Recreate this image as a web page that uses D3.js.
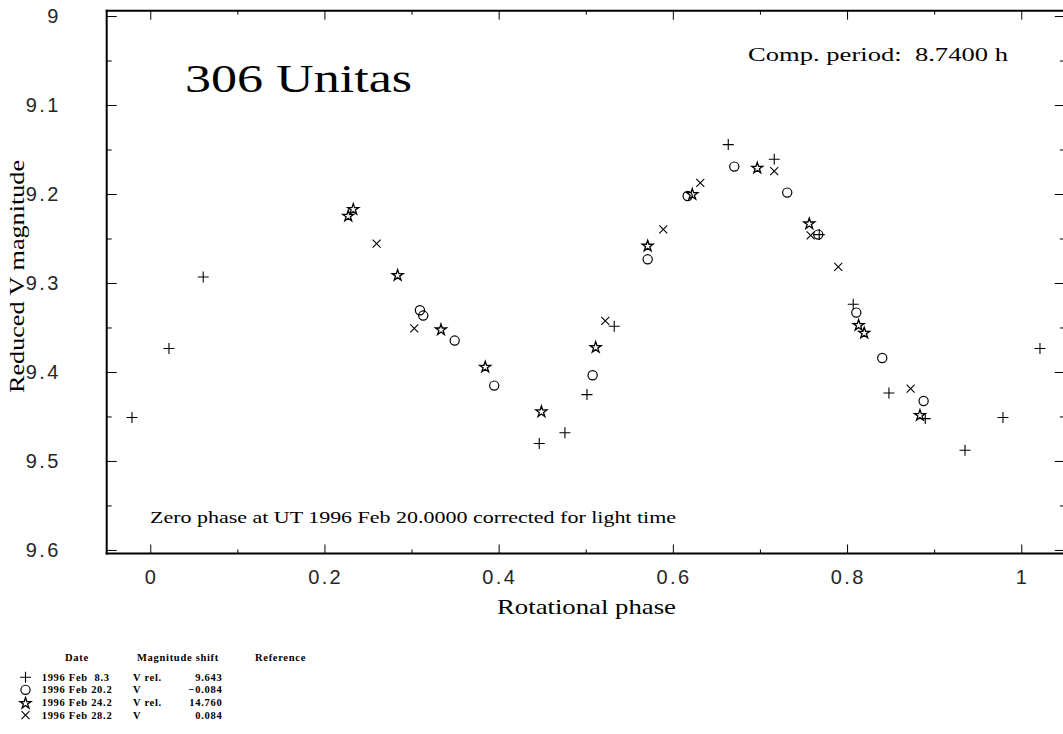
<!DOCTYPE html>
<html>
<head>
<meta charset="utf-8">
<script src="https://cdn.jsdelivr.net/npm/d3@7"></script>
<style>
  body { margin: 0; background: #fff; }
  svg { display: block; }
  text { white-space: pre; }
</style>
</head>
<body>
<svg id="chart" width="1063" height="734"></svg>
<script>
// ---- Light-curve data: rotational phase and reduced V magnitude per night ----
const phaseFeb08 = [0.0215, 0.0608, 0.4466, 0.4761, 0.5014, 0.5327, 0.6636, 0.7164, 0.7681, 0.8071, 0.8481, 0.8898, 0.9354, 0.9790];
const magFeb08   = [9.3737, 9.2933, 9.4804, 9.4683, 9.4254, 9.3487, 9.1445, 9.1610, 9.2456, 9.3239, 9.4236, 9.4524, 9.4880, 9.4512];

const phaseFeb20 = [0.3096, 0.3134, 0.3495, 0.3949, 0.5079, 0.5711, 0.6170, 0.6705, 0.7313, 0.7669, 0.8106, 0.8404, 0.8879];
const magFeb20   = [9.3306, 9.3366, 9.3647, 9.4153, 9.4037, 9.2734, 9.2022, 9.1692, 9.1984, 9.2456, 9.3333, 9.3843, 9.4326];

const phaseFeb24 = [0.2273, 0.2331, 0.2840, 0.3338, 0.3846, 0.4491, 0.5114, 0.5711, 0.6223, 0.6969, 0.7566, 0.8133, 0.8197, 0.8837];
const magFeb24   = [9.2239, 9.2164, 9.2906, 9.3517, 9.3936, 9.4438, 9.3715, 9.2576, 9.1996, 9.1700, 9.2326, 9.3467, 9.3554, 9.4479];

const phaseFeb28 = [0.2599, 0.3031, 0.5224, 0.5890, 0.6315, 0.7164, 0.7582, 0.7899, 0.8730];
const magFeb28   = [9.2557, 9.3509, 9.3425, 9.2397, 9.1876, 9.1742, 9.2464, 9.2818, 9.4187];

// Legend table
const legendDates  = ["1996 Feb  8.3", "1996 Feb 20.2", "1996 Feb 24.2", "1996 Feb 28.2"];
const legendBands  = ["V rel.", "V", "V rel.", "V"];
const legendShifts = ["9.643", "\u22120.084", "14.760", "0.084"];
const legendSymbols = ["plus", "circle", "star", "cross"];

// Axis ticks
const xMajorTicks = [0, 0.2, 0.4, 0.6, 0.8, 1];
const xMinorTicks = [-0.1, 0.1, 0.3, 0.5, 0.7, 0.9, 1.1];
const xTickLabels = ["0", "0.2", "0.4", "0.6", "0.8", "1"];
const yMajorTicks = [9.0, 9.1, 9.2, 9.3, 9.4, 9.5, 9.6];
const yMinorTicks = [9.05, 9.15, 9.25, 9.35, 9.45, 9.55];
const yTickLabels = ["9", "9.1", "9.2", "9.3", "9.4", "9.5", "9.6"];

const xDomain = [-0.05, 1.05];
const yDomain = [8.994, 9.604];

const titleText = "306 Unitas";
const periodText = "Comp. period:  8.7400 h";
const zeroPhaseText = "Zero phase at UT 1996 Feb 20.0000 corrected for light time";

// ---- Layout ----
const svg = d3.select("#chart");
const plot = { left: 106.7, right: 1064.8, top: 10.7, bottom: 553.5 };

const x = d3.scaleLinear().domain(xDomain).range([plot.left, plot.right]);
const y = d3.scaleLinear().domain(yDomain).range([plot.top, plot.bottom]);

const ink = "#000";

// Frame
const frame = svg.append("g").attr("stroke", ink).attr("stroke-width", 2);
frame.append("line").attr("x1", plot.left - 1).attr("x2", plot.right + 5).attr("y1", plot.top).attr("y2", plot.top);
frame.append("line").attr("x1", plot.left - 1).attr("x2", plot.right + 5).attr("y1", plot.bottom).attr("y2", plot.bottom);
frame.append("line").attr("x1", plot.left).attr("x2", plot.left).attr("y1", plot.top - 1).attr("y2", plot.bottom + 1);
frame.append("line").attr("x1", plot.right).attr("x2", plot.right).attr("y1", plot.top - 1).attr("y2", plot.bottom + 1);

// Axes with inward ticks via d3-axis
const inX = v => v >= xDomain[0] && v <= xDomain[1];
const xMinorIn = xMinorTicks.filter(inX);

function styleAxis(g) {
  g.select(".domain").remove();
  g.selectAll(".tick line").attr("stroke", ink).attr("stroke-width", 1);
}

svg.append("g").attr("transform", `translate(0,${plot.bottom})`)
  .call(d3.axisTop(x).tickValues(xMajorTicks).tickSize(9).tickFormat(""))
  .call(styleAxis);
svg.append("g").attr("transform", `translate(0,${plot.bottom})`)
  .call(d3.axisTop(x).tickValues(xMinorIn).tickSize(4).tickFormat(""))
  .call(styleAxis);
svg.append("g").attr("transform", `translate(0,${plot.top})`)
  .call(d3.axisBottom(x).tickValues(xMajorTicks).tickSize(9).tickFormat(""))
  .call(styleAxis);
svg.append("g").attr("transform", `translate(0,${plot.top})`)
  .call(d3.axisBottom(x).tickValues(xMinorIn).tickSize(4).tickFormat(""))
  .call(styleAxis);

svg.append("g").attr("transform", `translate(${plot.left},0)`)
  .call(d3.axisRight(y).tickValues(yMajorTicks).tickSize(10).tickFormat(""))
  .call(styleAxis);
svg.append("g").attr("transform", `translate(${plot.left},0)`)
  .call(d3.axisRight(y).tickValues(yMinorTicks).tickSize(5).tickFormat(""))
  .call(styleAxis);
svg.append("g").attr("transform", `translate(${plot.right},0)`)
  .call(d3.axisLeft(y).tickValues(yMajorTicks).tickSize(10).tickFormat(""))
  .call(styleAxis);
svg.append("g").attr("transform", `translate(${plot.right},0)`)
  .call(d3.axisLeft(y).tickValues(yMinorTicks).tickSize(5).tickFormat(""))
  .call(styleAxis);

// Tick labels
const tickFont = "'Liberation Sans', Arial, sans-serif";
svg.append("g").selectAll("text").data(xMajorTicks).join("text")
  .attr("x", d => x(d) + 1.2).attr("y", plot.bottom + 30)
  .attr("text-anchor", "middle")
  .attr("font-family", tickFont).attr("font-size", 20).attr("letter-spacing", 2.4).attr("fill", "#262626")
  .text((d, i) => xTickLabels[i]);
svg.append("g").selectAll("text").data(yMajorTicks).join("text")
  .attr("x", plot.left - 46).attr("y", d => y(d) + 7)
  .attr("text-anchor", "end")
  .attr("font-family", tickFont).attr("font-size", 20).attr("letter-spacing", 2.4).attr("fill", "#262626")
  .text((d, i) => yTickLabels[i]);

// Text helper: serif text widened to a set run length
const serif = "'Liberation Serif', 'Times New Roman', serif";
function label(parent, str, size, runLength, attrs) {
  const t = parent.append("text")
    .attr("font-family", serif).attr("font-size", size).attr("fill", ink)
    .attr("textLength", runLength).attr("lengthAdjust", "spacingAndGlyphs")
    .text(str);
  Object.entries(attrs).forEach(([k, v]) => t.attr(k, v));
  return t;
}

// Axis titles
label(svg, "Rotational phase", 21, 179, { x: 497, y: 614 });
label(svg, "Reduced V magnitude", 21, 233, { transform: `translate(24,393) rotate(-90)` });

// Annotations
label(svg, titleText, 41, 227, { x: 185, y: 92 });
label(svg, periodText, 19.5, 260, { x: 748, y: 61 });
label(svg, zeroPhaseText, 16, 526, { x: 150, y: 523 });

// ---- Marker drawing ----
function drawMarker(g, kind, cx, cy) {
  if (kind === "plus") {
    g.append("path").attr("d", `M${cx - 5.5},${cy}H${cx + 5.5}M${cx},${cy - 5.5}V${cy + 5.5}`)
      .attr("stroke", ink).attr("stroke-width", 1.1).attr("fill", "none");
  } else if (kind === "cross") {
    g.append("path").attr("d", `M${cx - 4},${cy - 4}L${cx + 4},${cy + 4}M${cx - 4},${cy + 4}L${cx + 4},${cy - 4}`)
      .attr("stroke", ink).attr("stroke-width", 1.1).attr("fill", "none");
  } else if (kind === "circle") {
    g.append("circle").attr("cx", cx).attr("cy", cy).attr("r", 4.6)
      .attr("stroke", ink).attr("stroke-width", 1.2).attr("fill", "none");
  } else if (kind === "star") {
    g.append("path").attr("d", d3.symbol(d3.symbolStar, 38)())
      .attr("transform", `translate(${cx},${cy + 0.8})`)
      .attr("stroke", ink).attr("stroke-width", 1.3).attr("fill", "none");
  }
}

// Phases near 0 or 1 are repeated one cycle over so the curve wraps
function wrapped(p) {
  const out = [p];
  if (p + 1 <= xDomain[1]) out.push(p + 1);
  if (p - 1 >= xDomain[0]) out.push(p - 1);
  return out;
}

const seriesList = [
  { kind: "plus",   phase: phaseFeb08, mag: magFeb08 },
  { kind: "circle", phase: phaseFeb20, mag: magFeb20 },
  { kind: "star",   phase: phaseFeb24, mag: magFeb24 },
  { kind: "cross",  phase: phaseFeb28, mag: magFeb28 }
];

const marks = svg.append("g");
seriesList.forEach(s => {
  s.phase.forEach((p, i) => {
    wrapped(p).forEach(pp => drawMarker(marks, s.kind, x(pp), y(s.mag[i])));
  });
});

// ---- Legend table ----
const leg = svg.append("g").attr("font-family", serif).attr("font-size", 10.5)
  .attr("font-weight", "bold").attr("letter-spacing", 0.7).attr("fill", ink);
leg.append("text").attr("x", 65).attr("y", 661).text("Date");
leg.append("text").attr("x", 137).attr("y", 661).text("Magnitude shift");
leg.append("text").attr("x", 255).attr("y", 661).text("Reference");
legendDates.forEach((d, i) => {
  const yy = 680.7 + i * 12.67;
  drawMarker(leg, legendSymbols[i], 25.5, yy - 3.5);
  leg.append("text").attr("x", 41.7).attr("y", yy).text(d);
  leg.append("text").attr("x", 133).attr("y", yy).text(legendBands[i]);
  leg.append("text").attr("x", 222.4).attr("y", yy).attr("text-anchor", "end").text(legendShifts[i]);
});
</script>
</body>
</html>
